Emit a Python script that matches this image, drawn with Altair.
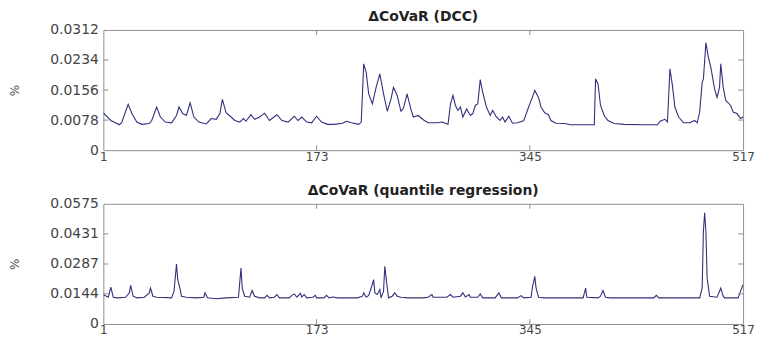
import altair as alt
import pandas as pd

# ---- data ----
dcc_t = [1, 7, 14, 16, 21, 24, 28, 32, 38, 40, 44, 47, 51, 56, 60, 62, 65, 68, 71, 74,
         78, 84, 88, 92, 95, 97, 100, 104, 107, 111, 114, 116, 120, 123, 127, 131, 135, 141, 145, 150,
         155, 158, 161, 165, 169, 173, 177, 182, 187, 194, 197, 201, 207, 209, 211, 213, 215, 218, 221, 224,
         227, 230, 233, 235, 238, 241, 243, 246, 249, 251, 255, 259, 263, 271, 274, 279, 281, 283, 285, 287,
         289, 291, 294, 297, 299, 301, 303, 305, 307, 310, 313, 315, 318, 321, 323, 325, 328, 331, 335, 340,
         343, 347, 349, 352, 354, 357, 360, 362, 366, 373, 378, 388, 397, 398, 400, 402, 405, 408, 413, 421,
         437, 448, 450, 454, 456, 458, 460, 462, 465, 469, 474, 478, 480, 482, 484, 485, 487, 489, 491, 494,
         496, 498, 499, 501, 503, 507, 509, 512, 515, 517]
dcc_v = [0.0097, 0.0077, 0.0066, 0.0073, 0.0119, 0.0095, 0.0073, 0.0067, 0.0069, 0.0077, 0.0112, 0.0086, 0.0073, 0.0071, 0.0090, 0.0112, 0.0095, 0.0090, 0.0123, 0.0086,
         0.0073, 0.0068, 0.0082, 0.0080, 0.0095, 0.0132, 0.0097, 0.0086, 0.0077, 0.0073, 0.0082, 0.0075, 0.0092, 0.0080, 0.0086, 0.0096, 0.0077, 0.0092, 0.0077, 0.0073,
         0.0088, 0.0077, 0.0086, 0.0073, 0.0071, 0.0088, 0.0073, 0.0067, 0.0067, 0.0070, 0.0075, 0.0071, 0.0067, 0.0073, 0.0224, 0.0202, 0.0146, 0.0120, 0.0163, 0.0198,
         0.0146, 0.0101, 0.0133, 0.0163, 0.0142, 0.0101, 0.0108, 0.0146, 0.0107, 0.0086, 0.0090, 0.0079, 0.0071, 0.0071, 0.0073, 0.0067, 0.0120, 0.0142, 0.0116, 0.0103,
         0.0112, 0.0086, 0.0107, 0.0090, 0.0095, 0.0116, 0.0120, 0.0183, 0.0150, 0.0112, 0.0090, 0.0103, 0.0086, 0.0077, 0.0086, 0.0073, 0.0088, 0.0070, 0.0071, 0.0076,
         0.0103, 0.0137, 0.0155, 0.0137, 0.0112, 0.0097, 0.0092, 0.0077, 0.0070, 0.0069, 0.0066, 0.0066, 0.0066, 0.0185, 0.0172, 0.0116, 0.0090, 0.0077, 0.0069, 0.0067,
         0.0066, 0.0066, 0.0075, 0.0080, 0.0073, 0.0211, 0.0168, 0.0112, 0.0086, 0.0071, 0.0071, 0.0077, 0.0071, 0.0099, 0.0176, 0.0185, 0.0279, 0.0241, 0.0215, 0.0159,
         0.0137, 0.0163, 0.0224, 0.0163, 0.0129, 0.0116, 0.0099, 0.0095, 0.0082, 0.0086]

qr_t = [1, 5, 7, 9, 12, 19, 22, 23, 25, 28, 34, 38, 39, 41, 44, 56, 58, 60, 61, 63,
        64, 68, 76, 82, 83, 85, 92, 100, 110, 112, 113, 115, 119, 121, 123, 127, 131, 133, 135, 139,
        141, 143, 151, 153, 155, 157, 159, 160, 161, 163, 165, 170, 172, 173, 179, 181, 183, 186, 190, 199,
        206, 210, 211, 213, 215, 217, 219, 220, 222, 224, 225, 227, 228, 230, 231, 234, 236, 238, 241, 247,
        259, 263, 266, 267, 278, 281, 283, 289, 291, 293, 296, 297, 303, 305, 307, 317, 320, 322, 335, 338,
        340, 346, 347, 349, 350, 352, 357, 388, 390, 391, 400, 402, 404, 406, 410, 445, 447, 449, 482, 484,
        485, 486, 487, 488, 490, 496, 498, 499, 501, 502, 513, 515, 517]
qr_v = [0.0140, 0.0128, 0.0176, 0.0128, 0.0125, 0.0128, 0.0149, 0.0185, 0.0133, 0.0125, 0.0128, 0.0149, 0.0172, 0.0133, 0.0128, 0.0125, 0.0157, 0.0287, 0.0212, 0.0165,
        0.0133, 0.0128, 0.0125, 0.0128, 0.0149, 0.0125, 0.0121, 0.0125, 0.0128, 0.0268, 0.0172, 0.0133, 0.0128, 0.0160, 0.0133, 0.0125, 0.0125, 0.0137, 0.0125, 0.0128,
        0.0141, 0.0125, 0.0125, 0.0137, 0.0144, 0.0128, 0.0141, 0.0147, 0.0129, 0.0141, 0.0125, 0.0128, 0.0137, 0.0125, 0.0125, 0.0137, 0.0125, 0.0129, 0.0125, 0.0125,
        0.0125, 0.0133, 0.0149, 0.0128, 0.0137, 0.0172, 0.0212, 0.0149, 0.0141, 0.0165, 0.0125, 0.0157, 0.0276, 0.0172, 0.0125, 0.0133, 0.0149, 0.0133, 0.0128, 0.0125,
        0.0125, 0.0128, 0.0141, 0.0128, 0.0128, 0.0141, 0.0128, 0.0133, 0.0149, 0.0129, 0.0141, 0.0128, 0.0128, 0.0144, 0.0125, 0.0125, 0.0149, 0.0125, 0.0125, 0.0136,
        0.0125, 0.0128, 0.0173, 0.0228, 0.0173, 0.0128, 0.0125, 0.0125, 0.0172, 0.0128, 0.0125, 0.0133, 0.0160, 0.0128, 0.0125, 0.0125, 0.0137, 0.0125, 0.0125, 0.0173,
        0.0444, 0.0532, 0.0444, 0.0220, 0.0133, 0.0128, 0.0157, 0.0172, 0.0133, 0.0125, 0.0125, 0.0157, 0.0189]

x_ticks = [1, 173, 345, 517]
dcc_yticks = [0, 0.0078, 0.0156, 0.0234, 0.0312]
qr_yticks = [0, 0.0144, 0.0287, 0.0431, 0.0575]
titles = ["ΔCoVaR (DCC)", "ΔCoVaR (quantile regression)"]

W, H = 644, 121
LINE = "#30307e"
FRAME = "#8f8f8f"
TICKLEN = 5


def panel(t, v, yticks, title):
    df = pd.DataFrame({"t": t, "v": v})
    xs = alt.Scale(domain=[x_ticks[0], x_ticks[-1]], nice=False, zero=False)
    ys = alt.Scale(domain=[yticks[0], yticks[-1]], nice=False, zero=False)
    xa = alt.Axis(values=x_ticks, title=None, labelFlush=False)
    ya = alt.Axis(values=yticks, title="%",
                  labelExpr="datum.value == 0 ? '0' : format(datum.value, '.4f')")
    line = alt.Chart(df).mark_line(color=LINE, strokeWidth=1.1, clip=True).encode(
        x=alt.X("t:Q", scale=xs, axis=xa),
        y=alt.Y("v:Q", scale=ys, axis=ya),
    )
    ytk = pd.DataFrame({"v": yticks[1:-1]})
    xtk = pd.DataFrame({"t": x_ticks[1:-1]})
    lt = alt.Chart(ytk).mark_rule(color=FRAME).encode(
        y=alt.Y("v:Q", scale=ys, axis=ya), x=alt.value(0), x2=alt.value(TICKLEN))
    rt = alt.Chart(ytk).mark_rule(color=FRAME).encode(
        y=alt.Y("v:Q", scale=ys, axis=ya), x=alt.value(W - TICKLEN), x2=alt.value(W))
    bt = alt.Chart(xtk).mark_rule(color=FRAME).encode(
        x=alt.X("t:Q", scale=xs, axis=xa), y=alt.value(H - TICKLEN), y2=alt.value(H))
    tt = alt.Chart(xtk).mark_rule(color=FRAME).encode(
        x=alt.X("t:Q", scale=xs, axis=xa), y=alt.value(0), y2=alt.value(TICKLEN))
    return alt.layer(line, lt, rt, bt, tt).properties(
        width=W, height=H,
        title=alt.TitleParams(title, fontSize=14, fontWeight="bold", font="DejaVu Sans",
                              color="#222222", anchor="middle", offset=-1),
    )


top = panel(dcc_t, dcc_v, dcc_yticks, titles[0])
bottom = panel(qr_t, qr_v, qr_yticks, titles[1])

chart = alt.vconcat(top, bottom, spacing=20).properties(
    padding={"left": 0, "top": 0, "right": 0, "bottom": 0}
).configure_view(
    stroke=FRAME, strokeWidth=1
).configure_axis(
    domain=False, ticks=False, tickSize=0, grid=False,
    labelFont="DejaVu Sans", labelFontSize=14, labelColor="#444444", labelPadding=5,
    titleFont="DejaVu Sans", titleFontSize=12, titleColor="#444444", titleFontWeight="normal",
    titlePadding=28,
).configure_axisX(labelPadding=1, labelFontSize=12)

chart.save("out.html", embed_options={"renderer": "svg", "actions": False})
